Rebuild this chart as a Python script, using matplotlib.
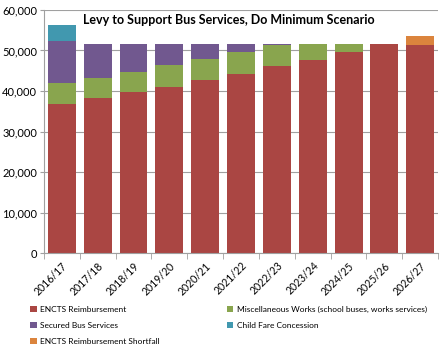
import matplotlib
matplotlib.use('Agg')
import matplotlib.pyplot as plt
import numpy as np

years = ['2016/17', '2017/18', '2018/19', '2019/20', '2020/21', '2021/22',
         '2022/23', '2023/24', '2024/25', '2025/26', '2026/27']

# values (stack segments)
encts = [36700, 38200, 39700, 41100, 42700, 44300, 46200, 47700, 49600, 51500, 51300]
misc = [5200, 5100, 5100, 5200, 5300, 5300, 5100, 3800, 1900, 0, 0]
secured = [10500, 8200, 6700, 5200, 3500, 1900, 200, 0, 0, 0, 0]
child = [4000, 0, 0, 0, 0, 0, 0, 0, 0, 0, 0]
shortfall = [0, 0, 0, 0, 0, 0, 0, 0, 0, 0, 2300]

series = [
    ('ENCTS Reimbursement', encts, '#AA4643'),
    ('Miscellaneous Works (school buses, works services)', misc, '#89A54E'),
    ('Secured Bus Services', secured, '#71588F'),
    ('Child Fare Concession', child, '#4198AF'),
    ('ENCTS Reimbursement Shortfall', shortfall, '#DB843D'),
]

plt.rcParams['font.family'] = ['Lato', 'DejaVu Sans']

fig = plt.figure(figsize=(4.48, 3.56), dpi=100)
ax = fig.add_axes([0.098, 0.289, 0.88, 0.683])

x = np.arange(len(years))
bottom = np.zeros(len(years))
handles = {}
for name, vals, col in series:
    vals = np.array(vals, dtype=float)
    h = ax.bar(x, vals, bottom=bottom, width=0.78, color=col, label=name, zorder=2)
    handles[name] = h
    bottom += vals

ax.set_xlim(-0.5, len(years) - 0.5)
ax.set_ylim(0, 60000)
ax.set_yticks(np.arange(0, 60001, 10000))
ax.set_yticklabels(['{:,}'.format(v) for v in range(0, 60001, 10000)], fontsize=8)
ax.yaxis.grid(True, color='#a0a0a0', linewidth=0.8, zorder=0)
ax.tick_params(axis='y', length=3, color='#a0a0a0', pad=2)

ax.set_xticks(x)
ax.set_xticklabels(years, rotation=45, ha='right', rotation_mode='anchor', fontsize=7.6)
ax.tick_params(axis='x', length=0, pad=5)
# category separators on the x axis
ax.set_xticks(np.arange(-0.5, len(years)), minor=True)
ax.tick_params(axis='x', which='minor', length=4, color='#a0a0a0')

for s in ['top', 'right']:
    ax.spines[s].set_visible(False)
ax.spines['left'].set_color('#a0a0a0')
ax.spines['bottom'].set_color('#a0a0a0')

ax.text(0.47, 0.985, 'Levy to Support Bus Services, Do Minimum Scenario',
        transform=ax.transAxes, ha='center', va='top', fontsize=9, fontweight='bold')

order = ['ENCTS Reimbursement', 'Secured Bus Services', 'ENCTS Reimbursement Shortfall',
         'Miscellaneous Works (school buses, works services)', 'Child Fare Concession']
fig.legend([handles[n] for n in order], order, ncol=2, loc='upper left',
           bbox_to_anchor=(0.055, 0.158), frameon=False, fontsize=6.0,
           handlelength=0.75, handleheight=0.75, handletextpad=0.45,
           columnspacing=8.0, labelspacing=1.1, borderpad=0.2)

fig.savefig('out.png', dpi=100)
